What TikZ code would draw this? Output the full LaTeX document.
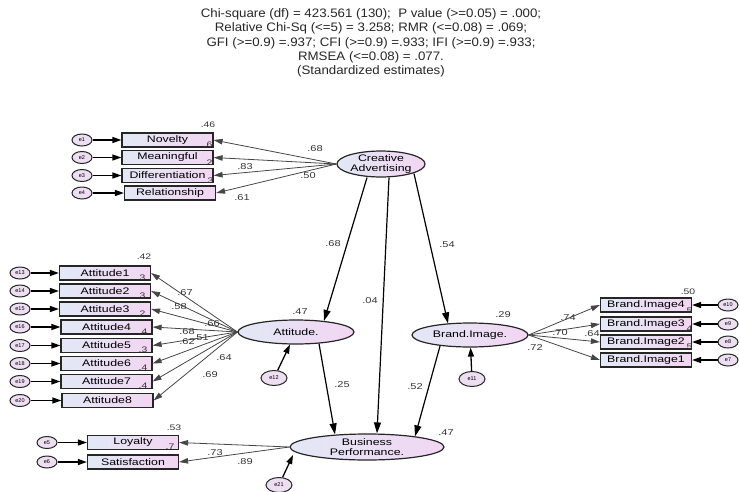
\documentclass[tikz,border=0pt]{standalone}
\usepackage{fontspec}
\usepackage{graphicx}
\setmainfont{Liberation Sans}
\usetikzlibrary{shapes.geometric,arrows.meta}
\definecolor{fillL}{RGB}{226,232,246}
\definecolor{fillR}{RGB}{242,214,242}
\definecolor{errF}{RGB}{238,222,242}
\definecolor{lineC}{RGB}{70,70,70}
\newcommand{\sx}[1]{\scalebox{1.3}[1]{#1}}
\newcommand{\tx}[1]{\scalebox{1.08}[1]{#1}}
\begin{document}
\begin{tikzpicture}[x=1pt,y=-1pt,
  lat/.style={ellipse,draw=black!85,line width=1.2pt,left color=fillL,right color=fillR,inner sep=0pt,align=center,font=\fontsize{9.5}{9.5}\selectfont},
  obs/.style={rectangle,draw=black!85,line width=1.2pt,left color=fillL,right color=fillR,minimum width=91pt,minimum height=14pt,inner sep=0pt,font=\fontsize{9.5}{9.5}\selectfont},
  err/.style={ellipse,draw=black!85,line width=1pt,fill=errF,minimum width=20pt,minimum height=12pt,inner sep=0pt,font=\fontsize{5.5}{5.5}\selectfont},
  coef/.style={inner sep=0pt,text=black!80,font=\fontsize{8.5}{8.5}\selectfont},
  small/.style={inner sep=0pt,text=black!80,font=\fontsize{8}{8}\selectfont},
  ld/.style={-{Triangle[length=9pt,width=5.5pt]},line width=0.8pt,draw=lineC},
  ea/.style={-{Triangle[length=9pt,width=6pt]},line width=1.3pt,draw=black},
  sa/.style={-{Triangle[length=11pt,width=7pt]},line width=1.2pt,draw=black}]
\useasboundingbox (0,0) rectangle (740,491);

% title
\node[align=center,font=\fontsize{12.3}{14.3}\selectfont,text=black!85] (title) at (371,43)
 {\tx{Chi-square (df) = 423.561 (130);\ \ P value (>=0.05) = .000;}\\
  \tx{Relative Chi-Sq (<=5) = 3.258; RMR (<=0.08) = .069;}\\
  \tx{GFI (>=0.9) =.937; CFI (>=0.9) =.933; IFI (>=0.9) =.933;}\\
  \tx{RMSEA (<=0.08) = .077.}\\
  \tx{(Standardized estimates)}};

% latent variables
\node[lat,minimum width=88pt,minimum height=24pt] (ca) at (381,164) {\sx{Creative}\\\sx{Advertising}};
\node[lat,minimum width=116pt,minimum height=24pt] (att) at (296,332) {\sx{Attitude.}};
\node[lat,minimum width=116pt,minimum height=24pt] (bi) at (470,335) {\sx{Brand.Image.}};
\node[lat,minimum width=154pt,minimum height=26pt] (bp) at (367,447) {\sx{Business}\\\sx{Performance.}};

% observed variables and error terms
\foreach \n/\lab/\x/\y in {1/Novelty/167.5/140,2/Meaningful/167.5/157.5,3/Differentiation/167.5/175.5,4/Relationship/170/193}{
  \node[obs] (c\n) at (\x,\y) {\sx{\lab}};
  \node[err] (e\n) at (82,\y) {e\n};
}
\foreach \n/\x/\y/\e in {1/105/273/13,2/105/291/14,3/105/309/15,4/106.5/327/16,5/106.5/345.5/17,6/106.5/363.5/18,7/106.5/381.5/19,8/107.5/400.5/20}{
  \node[obs] (a\n) at (\x,\y) {\sx{Attitude\n}};
  \node[err] (e\e) at (20,\y) {e\e};
}
\foreach \n/\y/\e in {4/305/10,3/324/9,2/342/8,1/360/7}{
  \node[obs] (b\n) at (646,\y) {\sx{Brand.Image\n}};
  \node[err] (e\e) at (728,\y) {e\e};
}
\foreach \n/\lab/\y/\e in {1/Loyalty/442.5/5,2/Satisfaction/462/6}{
  \node[obs] (p\n) at (133,\y) {\sx{\lab}};
  \node[err] (e\e) at (47,\y) {e\e};
}
\node[err,minimum width=26pt,minimum height=15pt] (e12) at (274,378) {e12};
\node[err,minimum width=26pt,minimum height=15pt] (e11) at (472,379) {e11};
\node[err,minimum width=26pt,minimum height=15pt] (e21) at (279,485) {e21};

% squared multiple correlations (partly covered, as in the reference)
\foreach \t/\x/\y [count=\k] in {.46/208/125,.6/208/145,.2/208/163,.3/209/181,
  .42/144/257,.3/141/278,.3/141/296,.2/141/314,.4/143/332,.3/143/350,.4/143/368,.4/143/386,
  .50/688/292,.5/688/311,.4/688/329,.5/688/347,
  .53/174/428,.7/170/447}
  \node[small] (r\k) at (\x,\y) {\sx{\t}};

% measurement arrows
\foreach \n in {1,...,4}{
  \draw[ea] (e\n) -- (c\n);
  \draw[ld] (ca.west) -- (c\n.east);
}
\foreach \n/\e in {1/13,2/14,3/15,4/16,5/17,6/18,7/19,8/20}{
  \draw[ea] (e\e) -- (a\n);
  \draw[ld] (att.west) -- (a\n.east);
}
\foreach \n/\e in {4/10,3/9,2/8,1/7}{
  \draw[ea] (e\e) -- (b\n);
  \draw[ld] (bi.east) -- (b\n.west);
}
\foreach \n/\e in {1/5,2/6}{
  \draw[ea] (e\e) -- (p\n);
  \draw[ld] (bp.west) -- (p\n.east);
}

% structural errors
\draw[ea] (e12) -- (att);
\draw[ea] (e11) -- (bi);
\draw[ea] (e21) -- ([shift={(-74pt,-8pt)}]bp.center);

% structural paths
\draw[sa] ([xshift=-14pt]ca.south) -- ([shift={(28pt,-1.5pt)}]att.north);
\draw[sa] ([xshift=8pt]ca.south) -- ([xshift=10pt]bp.north);
\draw[sa] ([shift={(33pt,4pt)}]ca.south) -- ([shift={(-22pt,-1pt)}]bi.north);
\draw[sa] ([shift={(23pt,1pt)}]att.south) -- ([shift={(-32pt,-1pt)}]bp.north);
\draw[sa] ([shift={(-30pt,1.5pt)}]bi.south) -- ([shift={(48pt,-3pt)}]bp.north);

% path coefficients
\foreach \t/\x/\y [count=\k] in {.68/315/149,.83/245/167,.50/308/176,.61/242/198,
  .67/185/293,.58/179/307,.66/212/324,.68/187/332,.62/187/342,.51/201/338,.64/224/358,.69/210/375,
  .74/568/318,.70/560/333,.64/592/334,.72/535/348,
  .73/215/453,.89/245/462,
  .68/333/244,.04/370/301,.54/447/245,.25/342/385,.52/415/387,
  .47/300/312,.29/503/315,.47/446/433}
  \node[coef] (k\k) at (\x,\y) {\sx{\t}};
\end{tikzpicture}
\end{document}
